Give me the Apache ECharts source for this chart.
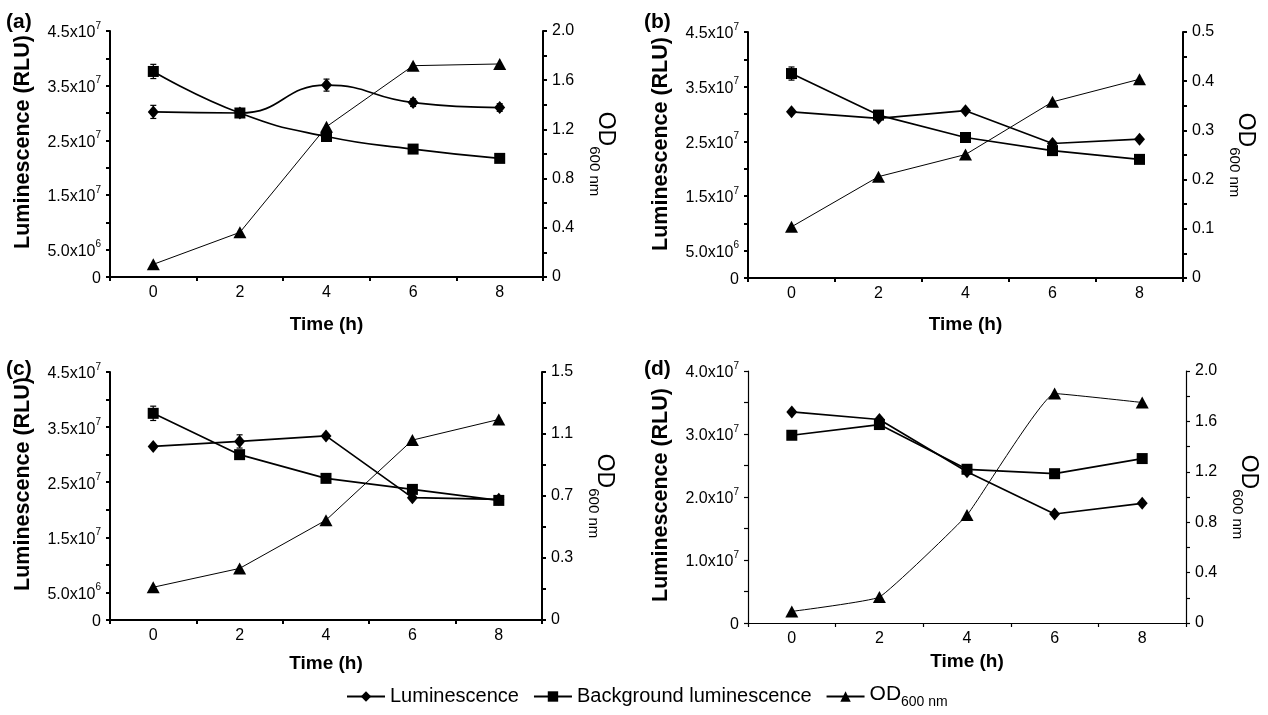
<!DOCTYPE html>
<html><head><meta charset="utf-8">
<script src="https://cdn.jsdelivr.net/npm/echarts@6/dist/echarts.min.js"></script>
<style>html,body{margin:0;padding:0;background:#fff}#c{width:1268px;height:715px}</style>
</head><body><div id="c"></div>
<script>
const timeCats = ['0','2','4','6','8'];

// Panel (a)
const lumA = [30.2e6, 30.0e6, 35.1e6, 31.9e6, 31.0e6];
const bgA  = [37.6e6, 30.0e6, 25.7e6, 23.4e6, 21.7e6];
const odA  = [0.103, 0.363, 1.222, 1.718, 1.732];
// Panel (b)
const lumB = [30.4e6, 29.2e6, 30.6e6, 24.6e6, 25.4e6];
const bgB  = [37.4e6, 29.8e6, 25.7e6, 23.3e6, 21.7e6];
const odB  = [0.104, 0.206, 0.251, 0.358, 0.404];
// Panel (c)
const lumC = [31.5e6, 32.4e6, 33.4e6, 22.2e6, 21.9e6];
const bgC  = [37.5e6, 30.0e6, 25.7e6, 23.7e6, 21.7e6];
const odC  = [0.198, 0.312, 0.604, 1.088, 1.213];
// Panel (d)
const lumD = [33.5e6, 32.3e6, 24.0e6, 17.3e6, 19.0e6];
const bgD  = [29.8e6, 31.5e6, 24.4e6, 23.7e6, 26.1e6];
const odD  = [0.092, 0.206, 0.857, 1.821, 1.750];

// Error bars: [time, low, high]
const errA = [['0', 29.0e6, 31.4e6], ['4', 34.0e6, 36.2e6], ['6', 31.2e6, 32.6e6], ['8', 30.3e6, 31.7e6], ['0', 36.3e6, 38.9e6]];
const errB = [['0', 36.2e6, 38.6e6]];
const errC = [['0', 36.2e6, 38.8e6], ['2', 31.2e6, 33.6e6]];
const errD = [];

// Tick labels (one entry per tick, '' = unlabeled tick)
const leftLabels45 = ['0','5.0x10^6','','1.5x10^7','','2.5x10^7','','3.5x10^7','','4.5x10^7'];
const leftLabels40 = ['0','','1.0x10^7','','2.0x10^7','','3.0x10^7','','4.0x10^7'];
const rightLabelsA = ['0','','0.4','','0.8','','1.2','','1.6','','2.0'];
const rightLabelsB = ['0','','0.1','','0.2','','0.3','','0.4','','0.5'];
const rightLabelsC = ['0','','0.3','','0.7','','1.1','','1.5'];
const rightLabelsD = ['0','','0.4','','0.8','','1.2','','1.6','','2.0'];

const FONT = '"Liberation Sans", Arial, sans-serif';

function supFmt(arr){
  return function(v, i){
    const s = arr[i] || '';
    if (s.indexOf('^') >= 0){
      const p = s.split('^');
      return '{m|' + p[0] + '}{s|' + p[1] + '}';
    }
    return '{m|' + s + '}';
  };
}

const panels = [
  {lbl:'(a)', grid:{left:110, top:31, width:433, height:246}, lum:lumA, bg:bgA, od:odA, err:errA,
   lmax:45e6, llabels:leftLabels45, rmax:2.0, rint:0.2, rlabels:rightLabelsA, smoothLB:0.5, smoothOD:false,
   aw:2, titleY:12, xGap:38, yPad:24},
  {lbl:'(b)', grid:{left:748, top:32, width:435, height:246}, lum:lumB, bg:bgB, od:odB, err:errB,
   lmax:45e6, llabels:leftLabels45, rmax:0.5, rint:0.05, rlabels:rightLabelsB, smoothLB:false, smoothOD:false,
   aw:2, titleY:12, xGap:37, yPad:22},
  {lbl:'(c)', grid:{left:110, top:372, width:432, height:248}, lum:lumC, bg:bgC, od:odC, err:errC,
   lmax:45e6, llabels:leftLabels45, rmax:1.5, rint:0.1875, rlabels:rightLabelsC, smoothLB:false, smoothOD:false,
   aw:2, titleY:359, xGap:34, yPad:24},
  {lbl:'(d)', grid:{left:748, top:371, width:438, height:252}, lum:lumD, bg:bgD, od:odD, err:errD,
   lmax:40e6, llabels:leftLabels40, rmax:2.0, rint:0.2, rlabels:rightLabelsD, smoothLB:false, smoothOD:0.1,
   aw:1.2, titleY:359, xGap:29, yPad:4}
];

const grids=[], xAxes=[], yAxes=[], series=[], titles=[];
panels.forEach((p, i) => {
  grids.push(p.grid);
  titles.push({text:p.lbl, left:p.grid.left - 104, top:p.titleY, padding:0,
    textStyle:{fontFamily:FONT, fontWeight:'bold', fontSize:21, color:'#000'}});
  const axLine = {show:true, lineStyle:{color:'#000', width:p.aw}};
  xAxes.push({gridIndex:i, type:'category', data:timeCats, boundaryGap:true,
    axisLine:axLine, axisTick:{show:true, length:4, lineStyle:{color:'#000', width:p.aw}},
    axisLabel:{color:'#000', fontFamily:FONT, fontSize:16, margin:8},
    name:'Time (h)', nameLocation:'middle', nameGap:p.xGap,
    nameTextStyle:{fontFamily:FONT, fontWeight:'bold', fontSize:19, color:'#000'},
    splitLine:{show:false}});
  yAxes.push({gridIndex:i, type:'value', position:'left', min:0, max:p.lmax, interval:5e6,
    axisLine:axLine, axisTick:{show:true, length:4, lineStyle:{color:'#000', width:p.aw}},
    axisLabel:{formatter:supFmt(p.llabels), margin:9,
      rich:{m:{fontFamily:FONT, fontSize:16, color:'#000', verticalAlign:'bottom', lineHeight:20},
            s:{fontFamily:FONT, fontSize:10, color:'#000', verticalAlign:'top', lineHeight:20}}},
    splitLine:{show:false},
    name:'Luminescence (RLU)', nameLocation:'middle', nameRotate:90, nameGap:76,
    nameTextStyle:{fontFamily:FONT, fontWeight:'bold', fontSize:21.5, color:'#000', padding:[0,0,0,p.yPad]}});
  yAxes.push({gridIndex:i, type:'value', position:'right', min:0, max:p.rmax, interval:p.rint,
    axisLine:axLine, axisTick:{show:true, length:4, lineStyle:{color:'#000', width:p.aw}},
    axisLabel:{formatter:supFmt(p.rlabels), margin:9,
      rich:{m:{fontFamily:FONT, fontSize:16, color:'#000'}}},
    splitLine:{show:false},
    name:'{a|OD}{b|600 nm}', nameLocation:'middle', nameRotate:-90, nameGap:44,
    nameTextStyle:{rich:{
      a:{fontFamily:FONT, fontSize:23, color:'#000', verticalAlign:'top', lineHeight:30},
      b:{fontFamily:FONT, fontSize:15, color:'#000', verticalAlign:'bottom', lineHeight:30}}}});
  series.push({type:'line', name:'Luminescence', xAxisIndex:i, yAxisIndex:2*i, data:p.lum,
    smooth:p.smoothLB, symbol:'diamond', symbolSize:[11,13],
    lineStyle:{color:'#000', width:1.7}, itemStyle:{color:'#000'}, z:3});
  series.push({type:'line', name:'Background luminescence', xAxisIndex:i, yAxisIndex:2*i, data:p.bg,
    smooth:p.smoothLB, symbol:'rect', symbolSize:11,
    lineStyle:{color:'#000', width:1.7}, itemStyle:{color:'#000'}, z:3});
  series.push({type:'line', name:'OD600 nm', xAxisIndex:i, yAxisIndex:2*i+1, data:p.od,
    smooth:p.smoothOD, symbol:'triangle', symbolSize:[13,12],
    lineStyle:{color:'#000', width:1.0}, itemStyle:{color:'#000'}, z:3});
  if (p.err.length){
    series.push({type:'custom', xAxisIndex:i, yAxisIndex:2*i, data:p.err, z:4, silent:true,
      renderItem:function(params, api){
        const lo = api.coord([api.value(0), api.value(1)]);
        const hi = api.coord([api.value(0), api.value(2)]);
        const w = 3;
        const st = {stroke:'#000', lineWidth:1.2};
        return {type:'group', children:[
          {type:'line', shape:{x1:lo[0], y1:lo[1], x2:hi[0], y2:hi[1]}, style:st},
          {type:'line', shape:{x1:lo[0]-w, y1:lo[1], x2:lo[0]+w, y2:lo[1]}, style:st},
          {type:'line', shape:{x1:hi[0]-w, y1:hi[1], x2:hi[0]+w, y2:hi[1]}, style:st}
        ]};
      },
      encode:{x:0, y:[1,2]}});
  }
});

const chart = echarts.init(document.getElementById('c'), null, {renderer:'canvas'});
chart.setOption({
  animation:false,
  backgroundColor:'#fff',
  title:titles,
  grid:grids, xAxis:xAxes, yAxis:yAxes, series:series,
  legend:{data:['Luminescence','Background luminescence','OD600 nm'], top:684, left:346, padding:0,
    itemWidth:38, itemHeight:13, itemGap:14, inactiveColor:'#000',
    formatter:function(n){ return n==='OD600 nm' ? '{a|OD}{b|600 nm}' : '{t|'+n+'}'; },
    textStyle:{fontFamily:FONT, fontSize:20, color:'#000',
      rich:{t:{fontFamily:FONT, fontSize:20, color:'#000'},
            a:{fontFamily:FONT, fontSize:21, color:'#000', verticalAlign:'top', lineHeight:25},
            b:{fontFamily:FONT, fontSize:14, color:'#000', verticalAlign:'bottom', lineHeight:25}}}}
});
</script></body></html>
